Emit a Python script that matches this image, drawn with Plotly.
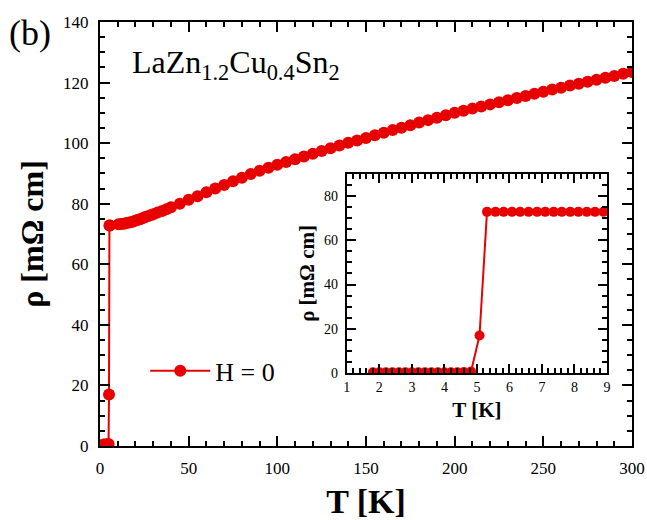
import plotly.graph_objects as go

# Low-temperature data (also shown in inset)
T_low = [1.8, 2.0, 2.2, 2.4, 2.6, 2.8, 3.0, 3.2, 3.4, 3.6, 3.8, 4.0, 4.2, 4.4, 4.6, 4.82,
         5.08, 5.31, 5.57, 5.82, 6.08, 6.33, 6.59, 6.85, 7.1, 7.36, 7.61, 7.87, 8.12, 8.38, 8.63, 8.89, 9.15]
rho_low = [0.4, 0.4, 0.4, 0.4, 0.4, 0.4, 0.4, 0.4, 0.4, 0.4, 0.4, 0.4, 0.4, 0.4, 0.5, 0.7,
           17.0, 72.8, 72.8, 72.8, 72.8, 72.8, 72.8, 72.8, 72.8, 72.8, 72.8, 72.8, 72.8, 72.8, 72.8, 72.8, 72.9]

# Higher-temperature data (main panel only)
T_high = [10.5, 12, 13.5, 15, 16.5, 18, 19.5, 21, 22.5, 24, 25.5, 27, 28.5, 30, 32.5, 35, 37.5,
          40, 45, 50, 55, 60, 65, 70, 75, 80, 85, 90, 95, 100, 105, 110, 115, 120, 125, 130,
          135, 140, 145, 150, 155, 160, 165, 170, 175, 180, 185, 190, 195, 200, 205, 210,
          215, 220, 225, 230, 235, 240, 245, 250, 255, 260, 265, 270, 275, 280, 285, 290,
          295, 300]
rho_high = [73.2, 73.3, 73.4, 73.6, 73.8, 74.0, 74.3, 74.6, 74.9, 75.2, 75.6, 75.9, 76.2, 76.5,
            77.1, 77.6, 78.2, 78.8, 80.0, 81.3, 82.5, 83.8, 85.0, 86.2, 87.4, 88.6, 89.8, 90.9,
            91.9, 92.9, 93.8, 94.7, 95.6, 96.5, 97.4, 98.3, 99.2, 100.1, 100.9, 101.7, 102.6,
            103.4, 104.3, 105.1, 105.9, 106.8, 107.6, 108.4, 109.2, 110.0, 110.7, 111.4, 112.1,
            112.8, 113.5, 114.2, 114.9, 115.6, 116.3, 117.0, 117.7, 118.3, 119.0, 119.6, 120.3,
            120.9, 121.6, 122.2, 122.9, 123.5]

T_main = T_low[:19] + T_high
rho_main = rho_low[:19] + rho_high

RED = "rgb(232,0,0)"
FONT = "Liberation Serif"

fig = go.Figure()
fig.add_trace(go.Scatter(x=T_main, y=rho_main, mode="lines+markers", name="H = 0",
                         line=dict(color=RED, width=2), marker=dict(color=RED, size=12),
                         xaxis="x", yaxis="y", showlegend=True))
fig.add_trace(go.Scatter(x=T_low, y=rho_low, mode="lines+markers", name="inset",
                         line=dict(color=RED, width=2), marker=dict(color=RED, size=10),
                         xaxis="x2", yaxis="y2", showlegend=False))

axcommon = dict(showline=True, linecolor="black", linewidth=2, mirror="ticks",
                ticks="inside", tickcolor="black", showgrid=False, zeroline=False,
                automargin=False)

fig.update_layout(
    width=647, height=520,
    margin=dict(l=100, r=15, t=22, b=74),
    paper_bgcolor="white", plot_bgcolor="white",
    font=dict(family=FONT, color="black"),
    xaxis=dict(range=[0, 300], dtick=50, tickwidth=2, ticklen=10,
               minor=dict(dtick=10, ticks="inside", ticklen=5, tickwidth=2, tickcolor="black"),
               tickfont=dict(size=17, family=FONT), ticklabelstandoff=6,
               title=dict(text="<b>T [K]</b>", font=dict(size=34, family=FONT), standoff=12),
               domain=[0, 1], **axcommon),
    yaxis=dict(range=[0, 140], dtick=20, tickwidth=2, ticklen=10,
               minor=dict(dtick=5, ticks="inside", ticklen=5, tickwidth=2, tickcolor="black"),
               tickfont=dict(size=17, family=FONT), ticklabelstandoff=6,
               title=dict(text="<b>ρ [mΩ cm]</b>", font=dict(size=32, family=FONT), standoff=10),
               domain=[0, 1], **axcommon),
    xaxis2=dict(range=[1, 9], dtick=1, tickwidth=1.5, ticklen=9, anchor="y2",
                minor=dict(dtick=0.2, ticks="inside", ticklen=5, tickwidth=1.5, tickcolor="black"),
                tickfont=dict(size=14, family=FONT),
                title=dict(text="<b>T [K]</b>", font=dict(size=21, family=FONT), standoff=8),
                domain=[0.464, 0.953], **axcommon),
    yaxis2=dict(range=[0, 90], dtick=20, tickwidth=1.5, ticklen=9, anchor="x2",
                minor=dict(dtick=5, ticks="inside", ticklen=5, tickwidth=1.5, tickcolor="black"),
                tickfont=dict(size=14, family=FONT), ticklabelstandoff=4,
                title=dict(text="<b>ρ [mΩ cm]</b>", font=dict(size=21, family=FONT), standoff=4),
                domain=[0.172, 0.642], **axcommon),
    legend=dict(x=0.085, y=0.177, xanchor="left", yanchor="middle",
                font=dict(size=26, family=FONT), bgcolor="rgba(0,0,0,0)",
                itemwidth=60, tracegroupgap=0),
    annotations=[
        dict(text="(b)", xref="paper", yref="paper", x=-0.132, y=0.975, xanchor="center",
             yanchor="middle", showarrow=False, font=dict(size=36, family=FONT)),
        dict(text="LaZn<sub>1.2</sub>Cu<sub>0.4</sub>Sn<sub>2</sub>", xref="paper", yref="paper",
             x=0.056, y=0.9, xanchor="left", yanchor="middle", showarrow=False,
             font=dict(size=32, family=FONT)),
    ],
)

fig.write_html("out.html", config={"displayModeBar": False},
               post_script="document.body.style.margin='0px';document.body.style.padding='0px';")
